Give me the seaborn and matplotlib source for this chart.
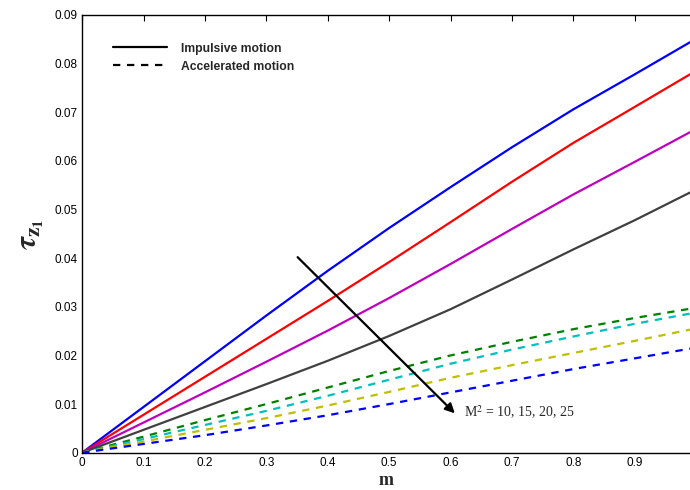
import matplotlib
matplotlib.use("Agg")
import matplotlib.pyplot as plt
from matplotlib.lines import Line2D
import seaborn as sns
import pandas as pd

# ---- data ----
m = [0, 0.1, 0.2, 0.3, 0.4, 0.5, 0.6, 0.7, 0.8, 0.9, 0.99]

imp_10 = [0, 0.0094, 0.0188, 0.0282, 0.0374, 0.0462, 0.0546, 0.0628, 0.0706, 0.0778, 0.0844]
imp_15 = [0, 0.0078, 0.0156, 0.0234, 0.0312, 0.0392, 0.0474, 0.0557, 0.0637, 0.0711, 0.0778]
imp_20 = [0, 0.0062, 0.0124, 0.0187, 0.0251, 0.0318, 0.0388, 0.0460, 0.0531, 0.0598, 0.0659]
imp_25 = [0, 0.0047, 0.0094, 0.0141, 0.0189, 0.0240, 0.0295, 0.0356, 0.0418, 0.0478, 0.0535]

acc_10 = [0, 0.0033, 0.0067, 0.0100, 0.0134, 0.0168, 0.0200, 0.0228, 0.0254, 0.0277, 0.0296]
acc_15 = [0, 0.0028, 0.0057, 0.0086, 0.0117, 0.0150, 0.0183, 0.0212, 0.0239, 0.0265, 0.0286]
acc_20 = [0, 0.0023, 0.0047, 0.0071, 0.0097, 0.0125, 0.0154, 0.0180, 0.0205, 0.0230, 0.0253]
acc_25 = [0, 0.0018, 0.0036, 0.0056, 0.0077, 0.0100, 0.0124, 0.0148, 0.0172, 0.0194, 0.0214]

x_ticks = [0, 0.1, 0.2, 0.3, 0.4, 0.5, 0.6, 0.7, 0.8, 0.9]
x_tick_labels = ["0", "0.1", "0.2", "0.3", "0.4", "0.5", "0.6", "0.7", "0.8", "0.9"]
y_ticks = [0, 0.01, 0.02, 0.03, 0.04, 0.05, 0.06, 0.07, 0.08, 0.09]
y_tick_labels = ["0", "0.01", "0.02", "0.03", "0.04", "0.05", "0.06", "0.07", "0.08", "0.09"]

legend_labels = ["Impulsive motion", "Accelerated motion"]
annotation = r"M$^2$ = 10, 15, 20, 25"

series = [
    (imp_10, "#0000FF", "solid"),
    (imp_15, "#FF0000", "solid"),
    (imp_20, "#BF00BF", "solid"),
    (imp_25, "#404040", "solid"),
    (acc_10, "#008000", "dashed"),
    (acc_15, "#00BFBF", "dashed"),
    (acc_20, "#BFBF00", "dashed"),
    (acc_25, "#0000FF", "dashed"),
]

sns.set_style("white")
plt.rcParams["font.family"] = ["Liberation Sans", "DejaVu Sans"]
plt.rcParams["mathtext.fontset"] = "stix"

fig = plt.figure(figsize=(6.9, 4.9), dpi=100)
ax = fig.add_axes([0.119, 0.0761, 0.881, 0.8933])

for vals, col, ls in series:
    df = pd.DataFrame({"m": m, "tau": vals})
    sns.lineplot(data=df, x="m", y="tau", color=col, linewidth=1.6,
                 ax=ax, legend=False, estimator=None, sort=False)
    if ls == "dashed":
        ax.lines[-1].set_dashes((3.3, 3.0))

ax.set_xlim(0, 0.99)
ax.set_ylim(0, 0.09)
ax.set_xticks(x_ticks)
ax.set_xticklabels(x_tick_labels)
ax.set_yticks(y_ticks)
ax.set_yticklabels(y_tick_labels)
ax.tick_params(direction="in", length=4, width=0.8, top=True, right=False,
               labelsize=8.5, colors="black", pad=3)
for s in ["left", "bottom", "top"]:
    ax.spines[s].set_color("black")
    ax.spines[s].set_linewidth(1.0)
ax.spines["right"].set_visible(False)

ax.set_xlabel("m", family="Liberation Serif", fontweight="bold", fontsize=13, labelpad=2)
ax.set_ylabel(r"$\boldsymbol{\tau}_{\mathbf{z}_{\mathbf{1}}}$", fontsize=22, labelpad=6)

handles = [Line2D([0], [0], color="black", lw=1.6),
           Line2D([0], [0], color="black", lw=1.6, dashes=(3.3, 3.0))]
ax.legend(handles, legend_labels, loc="upper left", bbox_to_anchor=(0.033, 0.962),
          frameon=False, handlelength=4.5, handletextpad=1.15, labelspacing=0.5,
          prop={"family": "Liberation Sans", "weight": "bold", "size": 8.7})

ax.annotate("", xy=(0.607, 0.0081), xytext=(0.351, 0.0402),
            arrowprops=dict(arrowstyle="-|>", color="black", lw=1.6,
                            mutation_scale=14, shrinkA=0, shrinkB=0))
ax.text(0.622, 0.0083, annotation, family="Liberation Serif", fontsize=10,
        va="center", ha="left")

fig.savefig("out.png", dpi=100)
